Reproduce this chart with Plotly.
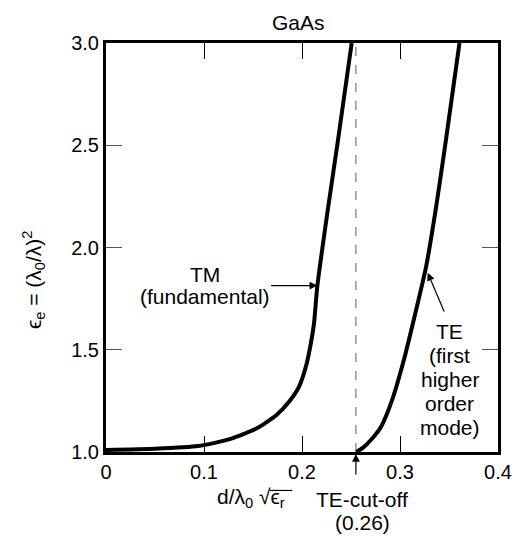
import plotly.graph_objects as go

# ---- data ----
tm_x = [0.0, 0.05, 0.094, 0.127, 0.154, 0.174, 0.187, 0.197, 0.204, 0.209, 0.2123, 0.2157, 0.227, 0.237, 0.2507]
tm_y = [1.01, 1.016, 1.029, 1.064, 1.116, 1.181, 1.247, 1.32, 1.418, 1.53, 1.631, 1.814, 2.207, 2.534, 3.0]

te_x = [0.2555, 0.262, 0.2705, 0.2807, 0.292, 0.304, 0.3157, 0.3267, 0.337, 0.347, 0.3607]
te_y = [1.0, 1.02, 1.06, 1.124, 1.255, 1.451, 1.68, 1.908, 2.203, 2.53, 3.0]

te_cutoff = 0.255
te_cutoff_label = "0.26"

x_ticks = [0, 0.1, 0.2, 0.3, 0.4]
x_tick_labels = ["0", "0.1", "0.2", "0.3", "0.4"]
y_ticks = [1.0, 1.5, 2.0, 2.5, 3.0]
y_tick_labels = ["1.0", "1.5", "2.0", "2.5", "3.0"]

te_label_lines = ["TE", "(first", "higher", "order", "mode)"]

FONT = "Liberation Sans, Arial, Helvetica, sans-serif"
FS = 20
FL = 21

fig = go.Figure()

fig.add_trace(go.Scatter(x=[te_cutoff, te_cutoff], y=[1.0, 3.0], mode="lines",
                         line=dict(color="#808080", width=1.3, dash="dash"),
                         showlegend=False, hoverinfo="skip"))
fig.add_trace(go.Scatter(x=tm_x, y=tm_y, mode="lines",
                         line=dict(color="black", width=4, shape="spline", smoothing=0.6),
                         showlegend=False))
fig.add_trace(go.Scatter(x=te_x, y=te_y, mode="lines",
                         line=dict(color="black", width=4, shape="spline", smoothing=0.6),
                         showlegend=False))

ann = []
# title
ann.append(dict(text="GaAs", x=0.49, y=1.051, xref="paper", yref="paper",
                showarrow=False, font=dict(size=FL), xanchor="center", yanchor="middle"))
# TM label
ann.append(dict(text="TM", x=0.1015, y=1.868, xref="x", yref="y", showarrow=False,
                font=dict(size=FL), xanchor="center", yanchor="middle"))
ann.append(dict(text="(fundamental)", x=0.1015, y=1.76, xref="x", yref="y", showarrow=False,
                font=dict(size=FL), xanchor="center", yanchor="middle"))
ann.append(dict(text="", x=0.2157, y=1.814, ax=0.167, ay=1.814, xref="x", yref="y",
                axref="x", ayref="y", showarrow=True, arrowhead=2, arrowsize=1.3,
                arrowwidth=1.2, arrowcolor="black"))
# TE label
te_line_y = [1.588, 1.471, 1.353, 1.235, 1.118]
for t, yy in zip(te_label_lines, te_line_y):
    ann.append(dict(text=t, x=0.3507, y=yy, xref="x", yref="y", showarrow=False,
                    font=dict(size=FL), xanchor="center", yanchor="middle"))
ann.append(dict(text="", x=0.3283, y=1.876, ax=0.3457, ay=1.68, xref="x", yref="y",
                axref="x", ayref="y", showarrow=True, arrowhead=2, arrowsize=1.3,
                arrowwidth=1.2, arrowcolor="black"))
# cut-off arrow & label
ann.append(dict(text="", x=te_cutoff, y=1.0, xref="x", yref="y", ax=0, ay=24,
                showarrow=True, arrowhead=2, arrowsize=1.3, arrowwidth=1.2,
                arrowcolor="black", standoff=2))
ann.append(dict(text="TE-cut-off", x=te_cutoff + 0.0067, y=-0.117, xref="x", yref="paper",
                showarrow=False, font=dict(size=FL), xanchor="center", yanchor="middle"))
ann.append(dict(text="(" + te_cutoff_label + ")", x=te_cutoff + 0.0067, y=-0.172, xref="x",
                yref="paper", showarrow=False, font=dict(size=FL), xanchor="center",
                yanchor="middle"))
# x axis title
ann.append(dict(text="d/λ<sub>0</sub> √ϵ<sub>r</sub>", x=0.37, y=-0.112, xref="paper",
                yref="paper", showarrow=False, font=dict(size=FL), xanchor="center",
                yanchor="middle"))
# y axis title
ann.append(dict(text="ϵ<sub>e</sub> = (λ<sub>0</sub>/λ)<sup>2</sup>", x=-0.185, y=1.843,
                xref="paper", yref="y", showarrow=False, font=dict(size=FL),
                textangle=-90, xanchor="center", yanchor="middle"))

fig.update_layout(
    width=524, height=536,
    margin=dict(l=106, r=18, t=43, b=84),
    paper_bgcolor="white", plot_bgcolor="white",
    font=dict(family=FONT, size=FS, color="black"),
    annotations=ann,
    showlegend=False,
    shapes=[dict(type="line", xref="paper", yref="paper", x0=0.418, x1=0.475,
                 y0=-0.094, y1=-0.094, line=dict(color="black", width=1.2))],
)
fig.update_xaxes(range=[0, 0.4], tickvals=x_ticks, ticktext=x_tick_labels,
                 showgrid=False, zeroline=False, showline=True, linecolor="black",
                 linewidth=3, mirror="ticks", ticks="inside", ticklen=16, tickwidth=1,
                 tickcolor="black", tickfont=dict(size=FS))
fig.update_yaxes(range=[1.0, 3.0], tickvals=y_ticks, ticktext=y_tick_labels,
                 showgrid=False, zeroline=False, showline=True, linecolor="black",
                 linewidth=3, mirror="ticks", ticks="inside", ticklen=16, tickwidth=1,
                 tickcolor="#555", tickfont=dict(size=FS))

fig.write_html("out.html", config={"displayModeBar": False},
               post_script="document.body.style.margin='0';document.body.style.overflow='hidden';")
